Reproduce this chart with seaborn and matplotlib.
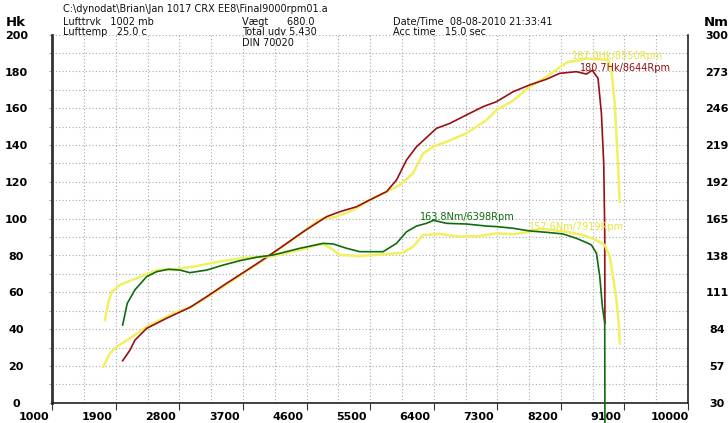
import matplotlib
matplotlib.use("Agg")
import matplotlib.pyplot as plt
import matplotlib.transforms as mtransforms
import seaborn as sns
import pandas as pd

# ---------------- data ----------------
red_rpm = [1996, 2100, 2170, 2336, 2619, 2948, 3185, 3468, 3703, 3939, 4222, 4552, 4883, 5071, 5307,
           5495, 5732, 5873, 6015, 6156, 6439, 6628, 6864, 7099, 7289, 7523, 7759, 7996, 8184, 8420,
           8562, 8644, 8726, 8774, 8807, 8821, 8824]
red_hk = [22.8, 28.6, 34.0, 40.4, 45.9, 51.8, 57.6, 64.9, 70.7, 76.6, 84.0, 92.9, 101.1, 103.8, 106.5,
          110.2, 114.7, 121.0, 131.9, 139.1, 149.1, 151.8, 156.4, 160.9, 163.6, 169.0, 172.7, 175.8, 179.0, 179.9,
          178.6, 180.7, 176.3, 157.3, 130.0, 93.9, 43.2]

grn_rpm = [1996, 2061, 2170, 2336, 2477, 2642, 2807, 2948, 3185, 3420, 3656, 3892, 4127, 4222, 4505,
           4835, 4976, 5166, 5354, 5684, 5873, 6015, 6156, 6297, 6398, 6580, 6864, 7147, 7289, 7523,
           7759, 7996, 8231, 8420, 8562, 8633, 8704, 8751, 8788, 8821, 8824]
grn_nm = [87.0, 102.9, 112.8, 122.5, 126.1, 127.9, 127.3, 125.4, 127.3, 131.0, 134.2, 136.7, 138.4, 139.6, 143.3,
          146.9, 146.5, 143.3, 140.8, 140.8, 146.9, 155.4, 159.6, 161.6, 163.8, 161.6, 161.1, 159.6, 159.2, 158.0,
          156.0, 155.0, 153.8, 150.6, 147.5, 145.7, 139.6, 122.5, 100.5, 88.3, 15.0]

ylw_p_rpm = [1722, 1816, 1911, 2100, 2336, 2712, 2995, 3278, 3561, 3844, 4127, 4552, 4788, 5024, 5260,
             5495, 5732, 5920, 6108, 6250, 6391, 6580, 6864, 7147, 7289, 7523, 7759, 7996, 8184, 8302,
             8420, 8550, 8867, 8916, 8962, 9009, 9033]
ylw_p_hk = [19.6, 26.8, 30.4, 35.0, 41.3, 48.6, 52.6, 59.5, 66.7, 73.9, 81.2, 92.9, 99.7, 101.1, 104.7,
            110.2, 114.7, 118.3, 124.7, 135.5, 139.1, 141.8, 146.4, 153.6, 159.1, 164.1, 171.7, 177.2, 182.3, 185.3,
            185.7, 187.0, 186.3, 180.8, 162.7, 130.1, 109.2]

ylw_t_rpm = [1745, 1792, 1839, 1957, 2193, 2477, 2712, 2995, 3278, 3561, 3844, 4127, 4505, 4741, 4835,
             4976, 5071, 5354, 5732, 5967, 6108, 6250, 6486, 6769, 7052, 7289, 7523, 7759, 7919, 8279,
             8515, 8704, 8821, 8892, 8939, 8986, 9023, 9033]
ylw_t_nm = [90.6, 102.9, 111.4, 116.4, 121.3, 127.3, 127.9, 129.8, 132.7, 135.2, 136.7, 137.6, 142.1, 145.7, 146.5,
            142.1, 138.4, 137.6, 139.1, 140.0, 144.5, 153.0, 153.8, 151.8, 152.3, 154.3, 153.5, 155.4, 157.6, 155.4,
            153.0, 149.3, 145.7, 137.1, 122.5, 105.3, 85.8, 73.6]

x_ticks = [1000, 1900, 2800, 3700, 4600, 5500, 6400, 7300, 8200, 9100, 10000]
hk_ticks = [0, 20, 40, 60, 80, 100, 120, 140, 160, 180, 200]
nm_ticks = [30, 57, 84, 111, 138, 165, 192, 219, 246, 273, 300]

header_lines = [
    ("C:\\dynodat\\Brian\\Jan 1017 CRX EE8\\Final9000rpm01.a", 63, 9),
    ("Lufttrvk   1002 mb", 63, 22), ("Lufttemp   25.0 c", 63, 32),
    ("Vægt      680.0", 242, 22), ("Total udv 5.430", 242, 32), ("DIN 70020", 242, 43),
    ("Date/Time  08-08-2010 21:33:41", 393, 22), ("Acc time   15.0 sec", 393, 32),
]

# ---------------- figure ----------------
W, H = 728, 423
fig = plt.figure(figsize=(W / 100, H / 100), dpi=100)
fig.patch.set_facecolor("white")
x0, x1, y0, y1 = 52.3, 688.0, 402.7, 34.7
ax = fig.add_axes([x0 / W, 1 - y0 / H, (x1 - x0) / W, (y0 - y1) / H])
ax.set_xlim(1000, 10000)
ax.set_ylim(0, 200)
ax2 = ax.twinx()
ax2.set_ylim(30, 300)

RED = "#980f14"
GRN = "#106a10"
YEL = "#f0f060"

df_yp = pd.DataFrame({"rpm": ylw_p_rpm, "v": ylw_p_hk})
df_r = pd.DataFrame({"rpm": red_rpm, "v": red_hk})
df_yt = pd.DataFrame({"rpm": ylw_t_rpm, "v": ylw_t_nm})
df_g = pd.DataFrame({"rpm": grn_rpm, "v": grn_nm})

sns.lineplot(data=df_yp, x="rpm", y="v", ax=ax, sort=False, color=YEL, lw=1.8)
sns.lineplot(data=df_r, x="rpm", y="v", ax=ax, sort=False, color=RED, lw=1.2)
sns.lineplot(data=df_yt, x="rpm", y="v", ax=ax2, sort=False, color=YEL, lw=1.8)
sns.lineplot(data=df_g, x="rpm", y="v", ax=ax2, sort=False, color=GRN, lw=1.2)
ax2.lines[-1].set_clip_on(False)

# grid
ax.set_xticks(x_ticks)
ax.set_xticks([t + 450 for t in x_ticks[:-1]], minor=True)
ax.set_yticks(hk_ticks)
ax.set_yticks([t + 10 for t in hk_ticks[:-1]], minor=True)
ax.grid(which="both", color="#a8a8a8", linestyle=(0, (1, 2)), linewidth=0.8)
ax.set_axisbelow(True)
ax.set_xlabel("")
ax.set_ylabel("")
ax2.set_ylabel("")

tick_font = dict(fontsize=8, fontweight="bold", family="DejaVu Sans")
ax.set_xticklabels([str(t) for t in x_ticks], **tick_font)
ax.set_yticklabels([str(t) for t in hk_ticks], **tick_font, ha="center")
ax2.set_yticks(nm_ticks)
ax2.set_yticklabels([str(t) for t in nm_ticks], **tick_font, ha="center")

ax.tick_params(axis="x", which="major", length=5, width=0.8, pad=2, color="#333333")
ax.tick_params(axis="x", which="minor", length=0)
ax.tick_params(axis="y", which="both", length=2, width=0.6, pad=24, color="#888888")
ax2.tick_params(axis="y", length=0, pad=21)

offset = mtransforms.ScaledTranslation(-0.185, 0, fig.dpi_scale_trans)
for lab in ax.get_xticklabels():
    lab.set_transform(lab.get_transform() + offset)

for sp in ["top", "right"]:
    ax.spines[sp].set_visible(False)
for sp in ["top", "left", "bottom"]:
    ax2.spines[sp].set_visible(False)
ax.spines["left"].set_linewidth(2.0)
ax.spines["left"].set_color("#333333")
ax.spines["bottom"].set_linewidth(1.2)
ax.spines["bottom"].set_color("#222222")
ax2.spines["right"].set_linewidth(1.2)
ax2.spines["right"].set_color("#222222")

# peak annotations
ann_font = dict(fontsize=7, family="DejaVu Sans", va="center", ha="left")
ax.text(8354, 188.4, "187.0Hk/8550Rpm", color="#e6e640", **ann_font)
ax.text(8467, 182.0, "180.7Hk/8644Rpm", color=RED, **ann_font)
ax2.text(6204, 166.2, "163.8Nm/6398Rpm", color=GRN, **ann_font)
ax2.text(7746, 159.2, "157.6Nm/7919Rpm", color="#e6e640", **ann_font)

# header
hdr_font = dict(fontsize=7, family=["Liberation Sans Narrow", "DejaVu Sans"], va="center", ha="left",
                color="#111111")
for txt, px, py in header_lines:
    fig.text(px / W, 1 - py / H, txt, **hdr_font)
fig.text(6 / W, 1 - 22 / H, "Hk", fontsize=9.5, fontweight="bold", va="center", ha="left")
fig.text(704 / W, 1 - 22 / H, "Nm", fontsize=9.5, fontweight="bold", va="center", ha="left")

fig.savefig("out.png", dpi=100, facecolor="white")
